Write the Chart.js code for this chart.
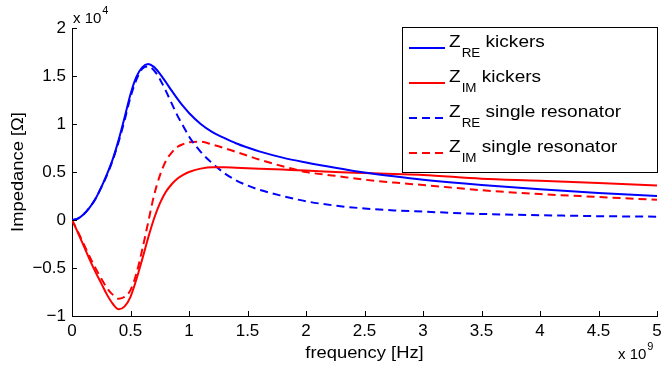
<!DOCTYPE html>
<html>
<head>
<meta charset="utf-8">
<script src="https://cdn.jsdelivr.net/npm/chart.js@4/dist/chart.umd.min.js"></script>
<style>
  html, body { margin: 0; padding: 0; background: #fff; }
</style>
</head>
<body>
<canvas id="impedanceChart" width="661" height="371"></canvas>
<script>
// frequency in units of 1e9 Hz, impedance in units of 1e4 Ohm
const freq = [0, 0.05, 0.1, 0.15, 0.2, 0.25, 0.3, 0.35, 0.4, 0.45, 0.5, 0.55, 0.6, 0.65, 0.7, 0.75,
  0.8, 0.85, 0.9, 0.95, 1.0, 1.1, 1.2, 1.3, 1.4, 1.5, 1.6, 1.8, 2.0, 2.25, 2.5, 2.75, 3.0, 3.5, 4.0, 4.5, 5.0];

const reKickers = [0, 0.015, 0.06, 0.13, 0.22, 0.34, 0.48, 0.64, 0.84, 1.07, 1.31, 1.49, 1.59, 1.625, 1.595, 1.525,
  1.44, 1.35, 1.265, 1.185, 1.115, 1.00, 0.915, 0.855, 0.80, 0.755, 0.715, 0.65, 0.60, 0.545, 0.495, 0.455, 0.42, 0.365, 0.32, 0.28, 0.25];

const imKickers = [0, -0.13, -0.27, -0.41, -0.54, -0.66, -0.78, -0.875, -0.93, -0.90, -0.80, -0.62, -0.41, -0.19, 0.01, 0.17,
  0.29, 0.37, 0.43, 0.47, 0.50, 0.535, 0.55, 0.55, 0.545, 0.54, 0.535, 0.525, 0.515, 0.50, 0.49, 0.48, 0.47, 0.43, 0.41, 0.385, 0.36];

const reResonator = [0, 0.015, 0.06, 0.13, 0.22, 0.34, 0.47, 0.63, 0.82, 1.04, 1.28, 1.46, 1.575, 1.60, 1.56, 1.47,
  1.35, 1.22, 1.09, 0.98, 0.87, 0.71, 0.59, 0.49, 0.415, 0.36, 0.315, 0.25, 0.195, 0.15, 0.12, 0.10, 0.087, 0.063, 0.05, 0.04, 0.035];

const imResonator = [0, -0.12, -0.25, -0.38, -0.50, -0.61, -0.71, -0.78, -0.82, -0.80, -0.73, -0.56, -0.31, -0.03, 0.25, 0.46,
  0.61, 0.70, 0.76, 0.79, 0.81, 0.815, 0.785, 0.75, 0.71, 0.67, 0.63, 0.56, 0.50, 0.46, 0.42, 0.39, 0.365, 0.31, 0.27, 0.24, 0.21];

const xTickValues = [0, 0.5, 1, 1.5, 2, 2.5, 3, 3.5, 4, 4.5, 5];
const yTickValues = [-1, -0.5, 0, 0.5, 1, 1.5, 2];

const FONT = "'Liberation Sans', Arial, Helvetica, sans-serif";

function series(values) {
  return freq.map((f, i) => ({ x: f, y: values[i] }));
}

function tickLabel(v) {
  return v < 0 ? "\u2212" + Math.abs(v) : String(v);
}

// text drawn a little wider, like the original figure fonts
function wideText(ctx, str, x, y, sx) {
  ctx.save();
  ctx.translate(x, y);
  ctx.scale(sx, 1);
  ctx.fillText(str, 0, 0);
  ctx.restore();
  return ctx.measureText(str).width * sx;
}

const decorations = {
  id: "decorations",
  afterDatasetsDraw(chart) {
    const { ctx, chartArea: a, scales: { x, y } } = chart;
    ctx.save();

    // inward tick marks
    ctx.strokeStyle = "#000";
    ctx.lineWidth = 1;
    ctx.beginPath();
    x.ticks.forEach(t => {
      const px = Math.round(x.getPixelForValue(t.value)) + 0.5;
      ctx.moveTo(px, a.bottom);
      ctx.lineTo(px, a.bottom - 5);
    });
    y.ticks.forEach(t => {
      const py = Math.round(y.getPixelForValue(t.value)) + 0.5;
      ctx.moveTo(a.left, py);
      ctx.lineTo(a.left + 5, py);
    });
    ctx.stroke();

    ctx.fillStyle = "#000";
    ctx.textBaseline = "alphabetic";
    ctx.textAlign = "left";

    // exponent labels
    ctx.font = "15px " + FONT;
    let w = wideText(ctx, "x 10", a.left + 1, 23, 1.0);
    ctx.font = "11px " + FONT;
    wideText(ctx, "4", a.left + 1 + w + 1, 14, 1.0);
    ctx.font = "15px " + FONT;
    w = wideText(ctx, "x 10", 618, 359, 1.0);
    ctx.font = "11px " + FONT;
    wideText(ctx, "9", 618 + w + 1, 350, 1.0);

    // axis titles
    ctx.font = "17px " + FONT;
    ctx.textAlign = "center";
    wideText(ctx, "frequency [Hz]", (a.left + a.right) / 2, 358, 1.08);
    ctx.save();
    ctx.translate(23, (a.top + a.bottom) / 2);
    ctx.rotate(-Math.PI / 2);
    wideText(ctx, "Impedance [\u03A9]", 0, 0, 1.08);
    ctx.restore();

    // legend box
    const box = { left: 402.5, top: 27.5, width: 255, height: 145 };
    ctx.fillStyle = "#fff";
    ctx.fillRect(box.left, box.top, box.width, box.height);
    ctx.strokeStyle = "#000";
    ctx.lineWidth = 1;
    ctx.strokeRect(box.left, box.top, box.width, box.height);

    ctx.textAlign = "left";
    chart.data.datasets.forEach((ds, i) => {
      const base = 47 + i * 35;
      ctx.strokeStyle = ds.borderColor;
      ctx.lineWidth = 2;
      ctx.setLineDash(ds.borderDash || []);
      ctx.beginPath();
      ctx.moveTo(409, base + 1);
      ctx.lineTo(445, base + 1);
      ctx.stroke();
      ctx.setLineDash([]);

      ctx.fillStyle = "#000";
      ctx.font = "17px " + FONT;
      let tx = 449;
      tx += wideText(ctx, "Z", tx, base, 1.12);
      ctx.font = "12px " + FONT;
      tx += wideText(ctx, ds.sub, tx + 1, base + 10, 1.12) + 1;
      ctx.font = "17px " + FONT;
      wideText(ctx, " " + ds.name, tx, base, 1.12);
    });

    ctx.restore();
  }
};

new Chart(document.getElementById("impedanceChart").getContext("2d"), {
  type: "line",
  data: {
    datasets: [
      { label: "Z_RE kickers", sub: "RE", name: "kickers", data: series(reKickers),
        borderColor: "#0000ff", borderWidth: 2 },
      { label: "Z_IM kickers", sub: "IM", name: "kickers", data: series(imKickers),
        borderColor: "#ff0000", borderWidth: 2 },
      { label: "Z_RE single resonator", sub: "RE", name: "single resonator", data: series(reResonator),
        borderColor: "#0000ff", borderWidth: 2, borderDash: [8, 5] },
      { label: "Z_IM single resonator", sub: "IM", name: "single resonator", data: series(imResonator),
        borderColor: "#ff0000", borderWidth: 2, borderDash: [8, 5] }
    ]
  },
  options: {
    responsive: false,
    animation: false,
    layout: { padding: { top: 28, right: 4, left: 0, bottom: 0 } },
    elements: {
      point: { radius: 0 },
      line: { cubicInterpolationMode: "monotone", fill: false }
    },
    plugins: {
      legend: { display: false },
      tooltip: { enabled: false }
    },
    scales: {
      x: {
        type: "linear",
        min: 0,
        max: 5,
        afterBuildTicks: s => { s.ticks = xTickValues.map(v => ({ value: v })); },
        afterFit: s => { s.height = 55; s.paddingLeft = 0; s.paddingRight = 0; },
        grid: { drawOnChartArea: false, drawTicks: false },
        border: { color: "#000", width: 1 },
        ticks: { color: "#000", padding: 5, maxRotation: 0, font: { family: FONT, size: 17 },
          callback: v => tickLabel(v) }
      },
      y: {
        type: "linear",
        min: -1,
        max: 2,
        afterBuildTicks: s => { s.ticks = yTickValues.map(v => ({ value: v })); },
        afterFit: s => { s.width = 72; s.paddingTop = 0; s.paddingBottom = 0; },
        grid: { drawOnChartArea: false, drawTicks: false },
        border: { color: "#000", width: 1 },
        ticks: { color: "#000", padding: 6, font: { family: FONT, size: 17 },
          callback: v => tickLabel(v) }
      }
    }
  },
  plugins: [decorations]
});
</script>
</body>
</html>
